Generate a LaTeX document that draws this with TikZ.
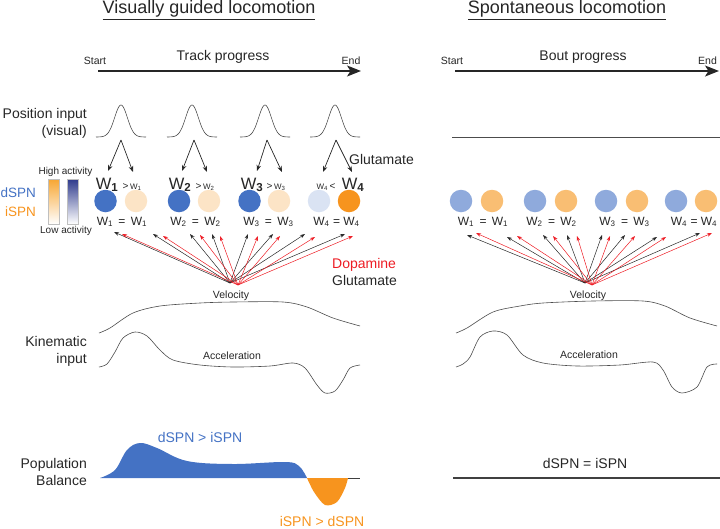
\documentclass[tikz,border=0pt]{standalone}
\usepackage{fontspec}
\setmainfont{Liberation Sans}
\usetikzlibrary{arrows.meta}
\definecolor{dblue}{RGB}{68,114,196}
\definecolor{iorange}{RGB}{247,148,30}
\definecolor{dpale}{RGB}{218,227,243}
\definecolor{ipale}{RGB}{252,228,198}
\definecolor{dmid}{RGB}{143,170,220}
\definecolor{imid}{RGB}{249,190,115}
\definecolor{dopa}{RGB}{237,28,36}
\definecolor{barorange}{RGB}{247,166,50}
\definecolor{barblue}{RGB}{46,58,140}
\newcommand{\fsz}[1]{\fontsize{#1}{17}\selectfont}
\begin{document}
\begin{tikzpicture}[x=1pt, y=-1pt,%
% common options for texts:
txt/.style = {inner sep=0, text=black!85},
head/.style = {txt, font=\fsz{18}},
big/.style = {txt, font=\fsz{14}, align=right, anchor=east},
mid/.style = {txt, font=\fsz{14}},
tiny/.style = {txt, font=\fsz{10.5}},
wbig/.style = {txt, anchor=base, font=\fsz{16.5}},
wsm/.style = {txt, anchor=base, font=\fsz{10}},
weq/.style = {txt, anchor=base, font=\fsz{12}},
% common options for the circles:
ball/.style = {circle, minimum size=22.5pt, inner sep=0},
% common options for arrows and curves:
track/.style = {-{Stealth[length=14pt,width=11pt,inset=3.5pt]}, line width=1.3pt, black!85},
glu/.style = {-{Stealth[length=6pt,width=4.5pt]}, line width=0.7pt, black!85},
fanb/.style = {-{Stealth[length=5pt,width=3.5pt]}, line width=0.5pt, black!85},
fanr/.style = {fanb, dopa},
curve/.style = {line width=0.6pt, black!70}]
\useasboundingbox (0,0) rectangle (720,528);
% titles and progress axes
\node[head] (tVis) at (209,10) {\underline{Visually guided locomotion}};
\node[head] (tSpo) at (567,10) {\underline{Spontaneous locomotion}};
\node[tiny] (stL) at (95,61) {Start};
\node[mid] (trk) at (223,57) {Track progress};
\node[tiny] (enL) at (351,61) {End};
\node[tiny] (stR) at (452,61) {Start};
\node[mid] (bout) at (583,57) {Bout progress};
\node[tiny] (enR) at (707.5,61) {End};
\coordinate (axL0) at (98,71);
\coordinate (axL1) at (361,71);
\coordinate (axR0) at (455,71);
\coordinate (axR1) at (719,71);
\draw[track] (axL0) -- (axL1);
\draw[track] (axR0) -- (axR1);
% position input
\node[big] (posin) at (87,123.5) {Position input\\(visual)};
\draw[curve] plot[domain=96:146, samples=61] (\x,{137-32*exp(-(\x-121)*(\x-121)/81)});
\draw[curve] plot[domain=167:217, samples=61] (\x,{137-32*exp(-(\x-192)*(\x-192)/81)});
\draw[curve] plot[domain=240:290, samples=61] (\x,{137-32*exp(-(\x-265)*(\x-265)/81)});
\draw[curve] plot[domain=310:360, samples=61] (\x,{137-32*exp(-(\x-335)*(\x-335)/81)});
\draw[curve] (452,137) -- (720,137);
\coordinate (pk1) at (121,140);
\coordinate (pk2) at (194,140);
\coordinate (pk3) at (267,140);
\coordinate (pk4) at (336,140);
\coordinate (wa1) at (108,171);
\coordinate (wb1) at (133,172);
\coordinate (wa2) at (182,171);
\coordinate (wb2) at (207,172);
\coordinate (wa3) at (257,171);
\coordinate (wb3) at (282,172);
\coordinate (wa4) at (323,172);
\coordinate (wb4) at (352,172);
\draw[glu] (pk1) -- (wa1);
\draw[glu] (pk1) -- (wb1);
\draw[glu] (pk2) -- (wa2);
\draw[glu] (pk2) -- (wb2);
\draw[glu] (pk3) -- (wa3);
\draw[glu] (pk3) -- (wb3);
\draw[glu] (pk4) -- (wa4);
\draw[glu] (pk4) -- (wb4);
\node[mid] (gluT) at (381.5,159) {Glutamate};
% activity legend
\shadedraw[draw=black!25, line width=1pt, top color=barorange, bottom color=white] (48,179) rectangle (59,224);
\shadedraw[draw=black!25, line width=1pt, top color=barblue, bottom color=white] (67,179) rectangle (78,224);
\node[txt, font=\fsz{10}] (hi) at (65.5,172) {High activity};
\node[txt, font=\fsz{10}] (lo) at (66,231) {Low activity};
\node[txt, font=\fsz{13.5}, text=dblue, anchor=east] (dlab) at (36,193) {dSPN};
\node[txt, font=\fsz{13.5}, text=iorange, anchor=east] (ilab) at (36,212) {iSPN};
% weights, visually guided
\node[wbig] (wd1) at (107,189) {W\textsubscript{\textbf{1}}};
\node[wsm] (wi1) at (132,189) {>\,{\fsz{8}W\textsubscript{1}}};
\node[wbig] (wd2) at (180,189) {W\textsubscript{\textbf{2}}};
\node[wsm] (wi2) at (205,189) {>\,{\fsz{8}W\textsubscript{2}}};
\node[wbig] (wd3) at (252,189) {W\textsubscript{\textbf{3}}};
\node[wsm] (wi3) at (276,189) {>\,{\fsz{8}W\textsubscript{3}}};
\node[wsm] (wd4) at (326,189) {{\fsz{8}W\textsubscript{4}}\,<};
\node[wbig] (wi4) at (353,189) {W\textsubscript{\textbf{4}}};
\node[ball, fill=dblue] (dL1) at (105.5,201) {};
\node[ball, fill=ipale] (iL1) at (136,201) {};
\node[ball, fill=dblue] (dL2) at (179,201) {};
\node[ball, fill=ipale] (iL2) at (209,201) {};
\node[ball, fill=dblue] (dL3) at (249.5,201) {};
\node[ball, fill=ipale] (iL3) at (279,201) {};
\node[ball, fill=dpale] (dL4) at (319,201) {};
\node[ball, fill=iorange] (iL4) at (349,201) {};
\node[weq] (eqL1) at (122,225) {W\textsubscript{1}\, = \,W\textsubscript{1}};
\node[weq] (eqL2) at (195.5,225) {W\textsubscript{2}\, = \,W\textsubscript{2}};
\node[weq] (eqL3) at (268.5,225) {W\textsubscript{3}\, = \,W\textsubscript{3}};
\node[weq] (eqL4) at (336.5,225) {W\textsubscript{4} = W\textsubscript{4}};
% weights, spontaneous
\node[ball, fill=dmid] (dR1) at (461,201) {};
\node[ball, fill=imid] (iR1) at (492,201) {};
\node[ball, fill=dmid] (dR2) at (535,201) {};
\node[ball, fill=imid] (iR2) at (566,201) {};
\node[ball, fill=dmid] (dR3) at (606,201) {};
\node[ball, fill=imid] (iR3) at (637,201) {};
\node[ball, fill=dmid] (dR4) at (676,201) {};
\node[ball, fill=imid] (iR4) at (706,201) {};
\node[weq] (eqR1) at (483,225) {W\textsubscript{1}\, = \,W\textsubscript{1}};
\node[weq] (eqR2) at (551.5,225) {W\textsubscript{2}\, = \,W\textsubscript{2}};
\node[weq] (eqR3) at (624.5,225) {W\textsubscript{3}\, = \,W\textsubscript{3}};
\node[weq] (eqR4) at (694,225) {W\textsubscript{4} = W\textsubscript{4}};
% velocity fans, visually guided
\coordinate (fbL) at (230,283);
\coordinate (frL) at (238,285);
\coordinate (bL1) at (114,232);
\coordinate (bL2) at (153,234);
\coordinate (bL3) at (190,234);
\coordinate (bL4) at (212,234);
\coordinate (bL5) at (248,234);
\coordinate (bL6) at (273,234);
\coordinate (bL7) at (305,234);
\coordinate (bL8) at (345,234);
\coordinate (rL1) at (122,234);
\coordinate (rL2) at (163,236);
\coordinate (rL3) at (200,235);
\coordinate (rL4) at (220,236);
\coordinate (rL5) at (258,236);
\coordinate (rL6) at (280,236);
\coordinate (rL7) at (315,237);
\coordinate (rL8) at (353,236);
\draw[fanb] (fbL) -- (bL1);
\draw[fanb] (fbL) -- (bL2);
\draw[fanb] (fbL) -- (bL3);
\draw[fanb] (fbL) -- (bL4);
\draw[fanb] (fbL) -- (bL5);
\draw[fanb] (fbL) -- (bL6);
\draw[fanb] (fbL) -- (bL7);
\draw[fanb] (fbL) -- (bL8);
\draw[fanr] (frL) -- (rL1);
\draw[fanr] (frL) -- (rL2);
\draw[fanr] (frL) -- (rL3);
\draw[fanr] (frL) -- (rL4);
\draw[fanr] (frL) -- (rL5);
\draw[fanr] (frL) -- (rL6);
\draw[fanr] (frL) -- (rL7);
\draw[fanr] (frL) -- (rL8);
\node[mid, text=dopa, anchor=west] (dopaL) at (332,265) {Dopamine};
\node[mid, anchor=west] (gluL) at (332,280) {Glutamate};
% velocity fans, spontaneous
\coordinate (fbR) at (585,283);
\coordinate (frR) at (592,285);
\coordinate (bR1) at (467,235);
\coordinate (bR2) at (507,237);
\coordinate (bR3) at (543,235);
\coordinate (bR4) at (567,235);
\coordinate (bR5) at (602,235);
\coordinate (bR6) at (625,235);
\coordinate (bR7) at (657,237);
\coordinate (bR8) at (700,233);
\coordinate (rR1) at (476,233);
\coordinate (rR2) at (517,236);
\coordinate (rR3) at (553,236);
\coordinate (rR4) at (577,236);
\coordinate (rR5) at (610,236);
\coordinate (rR6) at (635,236);
\coordinate (rR7) at (666,237);
\coordinate (rR8) at (712,233);
\draw[fanb] (fbR) -- (bR1);
\draw[fanb] (fbR) -- (bR2);
\draw[fanb] (fbR) -- (bR3);
\draw[fanb] (fbR) -- (bR4);
\draw[fanb] (fbR) -- (bR5);
\draw[fanb] (fbR) -- (bR6);
\draw[fanb] (fbR) -- (bR7);
\draw[fanb] (fbR) -- (bR8);
\draw[fanr] (frR) -- (rR1);
\draw[fanr] (frR) -- (rR2);
\draw[fanr] (frR) -- (rR3);
\draw[fanr] (frR) -- (rR4);
\draw[fanr] (frR) -- (rR5);
\draw[fanr] (frR) -- (rR6);
\draw[fanr] (frR) -- (rR7);
\draw[fanr] (frR) -- (rR8);
% kinematic input
\node[tiny] (velL) at (231,296) {Velocity};
\node[tiny] (velR) at (588,296) {Velocity};
\node[big] (kin) at (87,351.5) {Kinematic\\input};
\draw[curve] plot[smooth] coordinates {(99,333) (110,328) (133,313) (160,306) (200,303) (233,302) (283,302) (307,307) (333,318) (360,326)};
\draw[curve] plot[smooth] coordinates {(99,367) (107,364) (115,352) (123,338) (135,332) (147,336) (160,350) (173,360) (200,365) (233,367) (270,366) (293,363) (305,368) (317,385) (325,393) (335,391) (343,380) (350,368) (360,365)};
\draw[curve] plot[smooth] coordinates {(456,333) (467,328) (493,312) (520,306) (543,303) (593,301) (643,301) (665,306) (690,318) (717,326)};
\draw[curve] plot[smooth] coordinates {(456,367) (463,364) (470,357) (480,337) (493,331) (507,335) (523,355) (543,363) (577,366) (620,365) (653,362) (663,370) (672,387) (682,393) (697,387) (707,367) (717,364)};
\node[tiny] (accL) at (232,356) {Acceleration};
\node[tiny] (accR) at (589,355) {Acceleration};
% population balance
\node[big] (pop) at (87,471.5) {Population\\Balance};
\fill[dblue] plot[smooth, tension=0.6] coordinates {(100,478) (115,470) (127,450) (140,443) (157,448) (187,461) (233,464) (285,462) (299,466) (307,478)} -- cycle;
\fill[iorange] plot[smooth] coordinates {(307,478) (314,492) (325,505) (337,502) (345,488) (348,478)} -- cycle;
\draw[line width=1pt, black!75] (348,478) -- (360,478);
\draw[line width=1.2pt, black!75] (453,478) -- (720,478);
\node[mid, text=dblue] (dgt) at (200,437) {dSPN > iSPN};
\node[mid, text=iorange] (igt) at (322,521) {iSPN > dSPN};
\node[mid] (deq) at (585,463) {dSPN = iSPN};
\end{tikzpicture}
\end{document}
